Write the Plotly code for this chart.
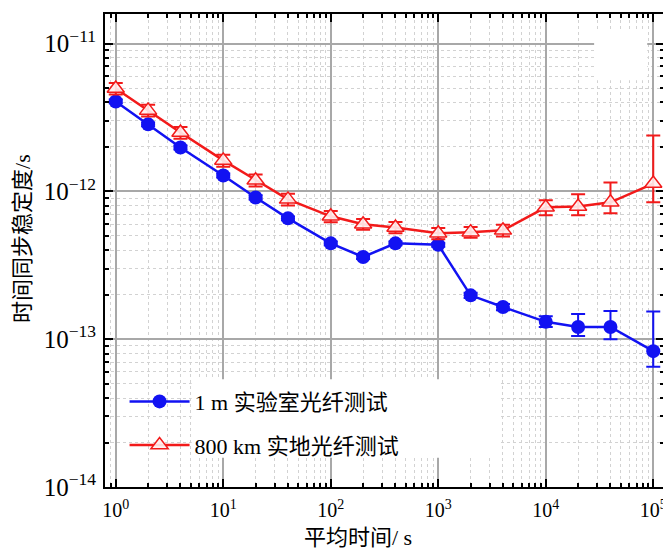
import plotly.graph_objects as go

tau = [1, 2, 4, 10, 20, 40, 100, 200, 400, 1000, 2000, 4000, 10000, 20000, 40000, 100000]

lab = [4.06e-12, 2.84e-12, 1.98e-12, 1.28e-12, 9.1e-13, 6.57e-13, 4.45e-13, 3.6e-13,
       4.45e-13, 4.35e-13, 1.98e-13, 1.65e-13, 1.31e-13, 1.21e-13, 1.21e-13, 8.3e-14]
lab_up = [1.2e-13, 8e-14, 6e-14, 4e-14, 3e-14, 2e-14, 1.3e-14, 1.1e-14,
          1.3e-14, 1.3e-14, 8e-15, 8e-15, 1.2e-14, 2.7e-14, 3.4e-14, 7.1e-14]
lab_dn = [1.2e-13, 8e-14, 6e-14, 4e-14, 3e-14, 2e-14, 1.3e-14, 1.1e-14,
          1.3e-14, 1.3e-14, 8e-15, 8e-15, 1.0e-14, 1.6e-14, 2.1e-14, 1.8e-14]

field = [4.97e-12, 3.53e-12, 2.5e-12, 1.62e-12, 1.19e-12, 8.83e-13, 6.78e-13, 6.0e-13,
         5.7e-13, 5.2e-13, 5.3e-13, 5.45e-13, 7.8e-13, 7.9e-13, 8.43e-13, 1.13e-12]
field_up = [4.5e-13, 3.2e-13, 2.3e-13, 1.5e-13, 1.1e-13, 8e-14, 6e-14, 5e-14,
            5e-14, 4.5e-14, 4.5e-14, 5e-14, 9e-14, 1.65e-13, 3.07e-13, 1.26e-12]
field_dn = [4.5e-13, 3.2e-13, 2.3e-13, 1.5e-13, 1.1e-13, 8e-14, 6e-14, 5e-14,
            5e-14, 4.5e-14, 4.5e-14, 5e-14, 9.1e-14, 1.01e-13, 1.33e-13, 2.87e-13]

names = ["1 m 实验室光纤测试", "800 km 实地光纤测试"]
x_alias = {"1": "10<sup>0</sup>", "10": "10<sup>1</sup>", "100": "10<sup>2</sup>",
           "1000": "10<sup>3</sup>", "10k": "10<sup>4</sup>", "100k": "10<sup>5</sup>"}

FONT = "Liberation Serif, Times New Roman, Noto Sans CJK SC, serif"
BLUE = "#1212f2"
RED = "#f21a1a"

fig = go.Figure()
fig.add_trace(go.Scatter(
    x=tau, y=lab, name=names[0], legendgroup="a", mode="lines+markers",
    line=dict(color=BLUE, width=2.5),
    marker=dict(symbol="circle", size=14, color=BLUE),
    error_y=dict(type="data", array=lab_up, arrayminus=lab_dn, color=BLUE,
                 thickness=2, width=7),
))
fig.add_trace(go.Scatter(
    x=tau, y=field, name=names[1], legendgroup="b", mode="lines+markers",
    line=dict(color=RED, width=2.5),
    marker=dict(symbol="triangle-up", size=15, color="rgba(255,240,240,0.9)",
                line=dict(color=RED, width=1.5)),
    error_y=dict(type="data", array=field_up, arrayminus=field_dn, color=RED,
                 thickness=2, width=7),
))

axis_common = dict(
    type="log", showline=True, linecolor="black", linewidth=2, mirror="allticks",
    ticks="inside", ticklen=8, tickwidth=2, tickcolor="black",
    showgrid=True, gridcolor="#a8a8a8", gridwidth=1.5, zeroline=False,
    dtick=1,
    minor=dict(ticks="inside", ticklen=4, tickwidth=1.5, tickcolor="black",
               showgrid=True, gridcolor="#d2d2d2", griddash="dot", gridwidth=1,
               dtick="D1"),
    tickfont=dict(family=FONT, size=20, color="black"),
)

fig.update_xaxes(**axis_common, range=[-0.1, 5.1], labelalias=x_alias, ticklabelstandoff=4)
fig.update_yaxes(**axis_common, range=[-14, -10.8], exponentformat="power", ticklabelstandoff=3)

# page body has an 8px margin, so the figure is drawn 8px in from the top-left
fig.update_layout(
    width=663, height=542,
    margin=dict(l=97, r=4, t=6, b=63),
    paper_bgcolor="white", plot_bgcolor="white",
    font=dict(family=FONT, size=19, color="black"),
    showlegend=True,
    legend=dict(x=0.035, y=0.225, xanchor="left", yanchor="top",
                bgcolor="rgba(0,0,0,0)", borderwidth=0, itemwidth=60,
                tracegroupgap=12, traceorder="grouped",
                font=dict(family=FONT, size=22, color="black")),
    shapes=[
        dict(type="rect", xref="paper", yref="paper", x0=0.155, x1=0.705, y0=0.062, y1=0.228,
             fillcolor="white", line=dict(width=0), layer="above"),
        dict(type="rect", xref="paper", yref="paper", x0=0.875, x1=0.970, y0=0.860, y1=0.966,
             fillcolor="white", line=dict(width=0), layer="above"),
    ],
    annotations=[
        dict(text="时间同步稳定度/s", xref="paper", yref="paper", x=-0.149, y=0.526,
             textangle=-90, showarrow=False, xanchor="center", yanchor="middle",
             font=dict(family=FONT, size=22, color="black")),
        dict(text="平均时间/ s", xref="paper", yref="paper", x=0.452, y=-0.106,
             showarrow=False, xanchor="center", yanchor="middle",
             font=dict(family=FONT, size=22, color="black")),
    ],
)

fig.write_html("out.html")
